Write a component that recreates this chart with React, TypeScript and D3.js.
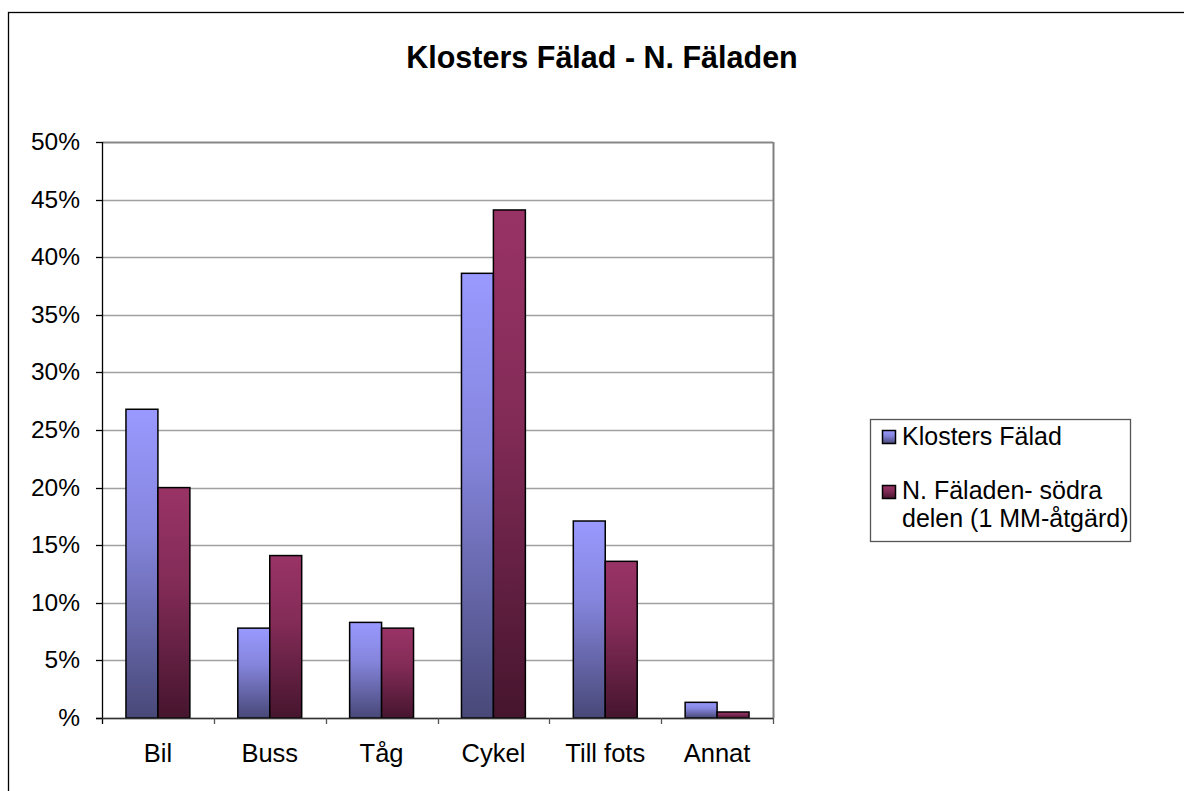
import React from "react";
import * as d3 from "d3";

const categories = ["Bil", "Buss", "Tåg", "Cykel", "Till fots", "Annat"];
const seriesNames = ["Klosters Fälad", "N. Fäladen- södra delen (1 MM-åtgärd)"];
const klostersFalad = [26.8, 7.8, 8.3, 38.6, 17.1, 1.36];
const nFaladen = [20.0, 14.1, 7.8, 44.1, 13.6, 0.52];
const yTicks = [0, 5, 10, 15, 20, 25, 30, 35, 40, 45, 50];
const yTickLabels = ["%", "5%", "10%", "15%", "20%", "25%", "30%", "35%", "40%", "45%", "50%"];

const W = 1184;
const H = 791;
const plot = { left: 102, right: 773, top: 142, bottom: 718 };
const font = "'Liberation Sans', Arial, sans-serif";
const fs = 24.5;

export default function App() {
  const x = d3.scaleBand<string>().domain(categories).range([plot.left, plot.right]).paddingInner(0).paddingOuter(0);
  const y = d3.scaleLinear().domain([0, 50]).range([plot.bottom, plot.top]);
  const groupFrac = 2 / 3.5; // gap width 150%
  const barW = (x.bandwidth() * groupFrac) / 2;
  const series = [klostersFalad, nFaladen];
  const gradIds = ["gBlue", "gRed"];

  return (
    <svg width={W} height={H} style={{ position: "absolute", left: 0, top: 0 }}>
      <defs>
        <linearGradient id="gBlue" x1="0" y1="0" x2="0" y2="1">
          <stop offset="0%" stopColor="#9999ff" />
          <stop offset="40%" stopColor="#8585dd" />
          <stop offset="100%" stopColor="#484878" />
        </linearGradient>
        <linearGradient id="gRed" x1="0" y1="0" x2="0" y2="1">
          <stop offset="0%" stopColor="#993366" />
          <stop offset="40%" stopColor="#842c58" />
          <stop offset="100%" stopColor="#46152e" />
        </linearGradient>
      </defs>
      <rect x={0} y={0} width={W} height={H} fill="#fff" />
      <rect x={8.5} y={12.5} width={W + 10} height={H + 10} fill="none" stroke="#000" strokeWidth={1.3} />
      <text x={602} y={68} textAnchor="middle" fontFamily={font} fontWeight="bold" fontSize={30.5}>
        Klosters Fälad - N. Fäladen
      </text>

      {yTicks.map((t) => (
        <line key={"g" + t} x1={plot.left} x2={plot.right} y1={Math.round(y(t)) + 0.5} y2={Math.round(y(t)) + 0.5}
          stroke={t === 50 ? "#888" : "#a0a0a0"} strokeWidth={t === 50 ? 2 : 1.3} />
      ))}
      <line x1={plot.right + 0.5} x2={plot.right + 0.5} y1={plot.top} y2={plot.bottom} stroke="#808080" strokeWidth={2} />

      {series.map((vals, si) =>
        categories.map((c, i) => {
          const bx = (x(c) as number) + (x.bandwidth() - 2 * barW) / 2 + si * barW;
          const by = y(vals[i]);
          return (
            <rect key={si + "-" + c} x={bx} y={by} width={barW} height={plot.bottom - by}
              fill={`url(#${gradIds[si]})`} stroke="#000" strokeWidth={1.5} />
          );
        })
      )}

      <line x1={plot.left + 0.5} x2={plot.left + 0.5} y1={plot.top} y2={plot.bottom + 6} stroke="#000" strokeWidth={1.3} />
      <line x1={plot.left - 6} x2={plot.right} y1={plot.bottom + 0.5} y2={plot.bottom + 0.5} stroke="#333" strokeWidth={1.3} />
      {yTicks.map((t, i) => (
        <g key={"t" + t}>
          <line x1={plot.left - 6} x2={plot.left} y1={Math.round(y(t)) + 0.5} y2={Math.round(y(t)) + 0.5} stroke="#000" strokeWidth={1.3} />
          <text x={80} y={y(t) + 8} textAnchor="end" fontFamily={font} fontSize={fs}>{yTickLabels[i]}</text>
        </g>
      ))}
      {categories.map((c, i) => (
        <g key={"x" + c}>
          {i > 0 && (
            <line x1={Math.round(x(c) as number) + 0.5} x2={Math.round(x(c) as number) + 0.5} y1={plot.bottom} y2={plot.bottom + 6} stroke="#555" strokeWidth={1.3} />
          )}
          <text x={(x(c) as number) + x.bandwidth() / 2} y={762} textAnchor="middle" fontFamily={font} fontSize={25.5}>{c}</text>
        </g>
      ))}
      <line x1={plot.right + 0.5} x2={plot.right + 0.5} y1={plot.bottom} y2={plot.bottom + 6} stroke="#555" strokeWidth={1.3} />

      <rect x={870.5} y={419.5} width={260} height={122} fill="#fff" stroke="#555" strokeWidth={1.3} />
      <rect x={882.5} y={430.5} width={13} height={13} fill="url(#gBlue)" stroke="#000" strokeWidth={1.5} />
      <text x={902} y={445} fontFamily={font} fontSize={25}>{seriesNames[0]}</text>
      <rect x={882.5} y={485.5} width={13} height={13} fill="url(#gRed)" stroke="#000" strokeWidth={1.5} />
      <text x={902} y={499} fontFamily={font} fontSize={25}>N. Fäladen- södra</text>
      <text x={902} y={527} fontFamily={font} fontSize={25}>delen (1 MM-åtgärd)</text>
    </svg>
  );
}
